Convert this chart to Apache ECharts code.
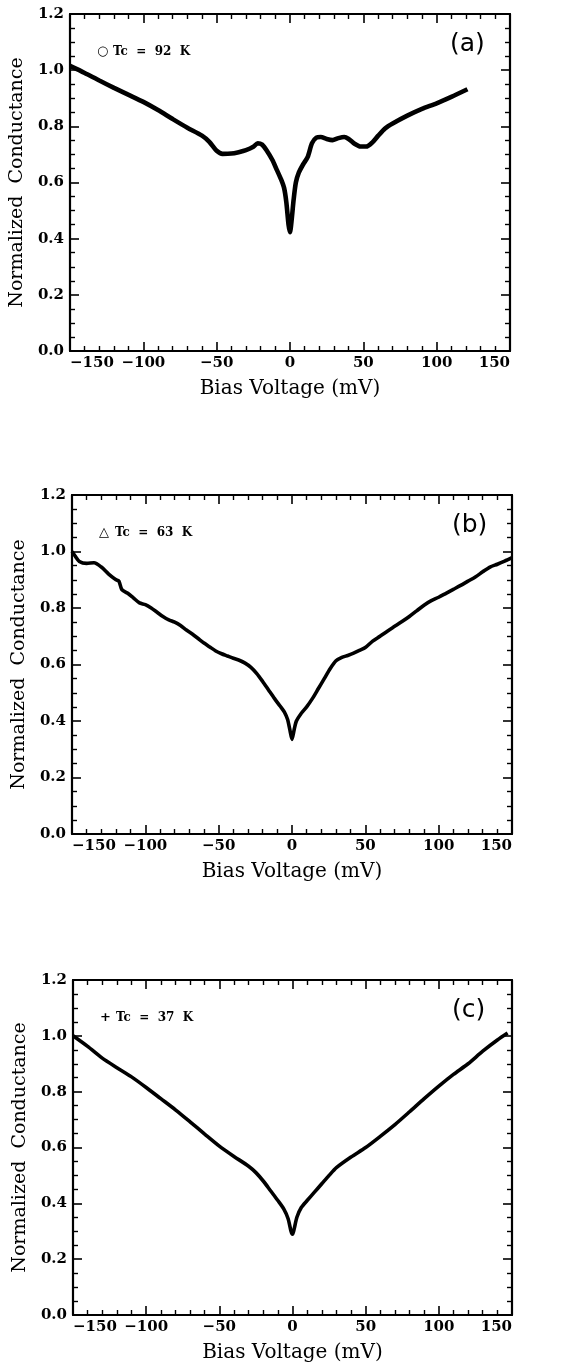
<!DOCTYPE html>
<html>
<head>
<meta charset="utf-8">
<script src="https://cdn.jsdelivr.net/npm/echarts@6/dist/echarts.min.js"></script>
<style>
html,body{margin:0;padding:0;background:#fff;}
#chart{width:583px;height:1364px;}
</style>
</head>
<body>
<div id="chart"></div>
<script>
// ---- data: bias voltage (mV), normalized conductance ----
var panelA_V = [-150,-140,-130,-120,-110,-100,-90,-80,-70,-60,-55,-50,-46,-40,-35,-30,-25,-22,-19,-16,-12,-9,-6,-4,-2.5,-1,0,1,2.5,4,6,9,12,15,18,21,25,29,33,37,40,44,48,52,56,60,65,70,80,90,100,110,121];
var panelA_G = [1.015,0.99,0.963,0.937,0.912,0.887,0.858,0.826,0.795,0.767,0.745,0.713,0.702,0.703,0.708,0.715,0.727,0.740,0.735,0.715,0.680,0.645,0.610,0.580,0.530,0.450,0.423,0.460,0.540,0.600,0.635,0.665,0.690,0.740,0.760,0.762,0.755,0.751,0.758,0.762,0.755,0.738,0.728,0.728,0.742,0.766,0.793,0.810,0.838,0.862,0.882,0.905,0.932];

var panelB_V = [-150,-148,-145,-140,-135,-130,-125,-120,-118,-116,-112,-108,-104,-100,-96,-92,-88,-84,-80,-76,-72,-68,-64,-60,-56,-52,-48,-44,-40,-36,-32,-28,-24,-20,-16,-12,-8,-5,-3,-1.5,0,1.5,3,6,10,14,18,22,26,30,34,38,42,46,50,55,60,65,70,75,80,85,90,95,100,105,110,115,120,125,130,135,140,145,150];
var panelB_G = [1.000,0.985,0.965,0.958,0.960,0.945,0.920,0.900,0.895,0.865,0.852,0.835,0.818,0.812,0.800,0.785,0.770,0.758,0.750,0.738,0.722,0.708,0.692,0.676,0.662,0.648,0.638,0.630,0.622,0.615,0.605,0.590,0.568,0.540,0.510,0.480,0.452,0.430,0.405,0.370,0.335,0.370,0.400,0.425,0.450,0.480,0.515,0.550,0.585,0.613,0.625,0.632,0.640,0.650,0.660,0.683,0.700,0.718,0.735,0.752,0.770,0.790,0.810,0.826,0.838,0.852,0.866,0.880,0.895,0.910,0.928,0.945,0.955,0.966,0.978];

var panelC_V = [-150,-140,-130,-120,-110,-100,-90,-80,-70,-60,-50,-40,-30,-25,-20,-15,-10,-6,-3,-1,0,1,3,6,10,15,20,25,30,40,50,60,70,80,90,100,110,120,130,140,147];
var panelC_G = [1.000,0.962,0.920,0.886,0.853,0.815,0.775,0.735,0.692,0.648,0.605,0.568,0.533,0.510,0.480,0.445,0.410,0.380,0.345,0.300,0.289,0.305,0.350,0.385,0.410,0.440,0.470,0.500,0.528,0.566,0.600,0.640,0.682,0.728,0.775,0.820,0.862,0.900,0.945,0.985,1.010];

var xTicks = [-150,-100,-50,0,50,100,150];
var yTicks = [0.0,0.2,0.4,0.6,0.8,1.0,1.2];
var panelLabels = ['(a)','(b)','(c)'];
var legendMarks = ['\u25CB','\u25B3','+'];
var legendTexts = ['Tc  =  92  K','Tc  =  63  K','Tc  =  37  K'];
var xName = 'Bias Voltage (mV)';
var yName = 'Normalized  Conductance';

function zip(v,g){ return v.map(function(x,i){ return [x,g[i]]; }); }
var seriesData = [zip(panelA_V,panelA_G), zip(panelB_V,panelB_G), zip(panelC_V,panelC_G)];

var grids = [
  {left:70, top:14, width:440, height:337},
  {left:72, top:495, width:440, height:339},
  {left:73, top:980, width:439, height:336}
];

var serif = '"DejaVu Serif", "Liberation Serif", serif';
var lineStyle = {color:'#000', width:2.2};

var xAxes=[], yAxes=[], series=[], graphics=[];
grids.forEach(function(g,i){
  var base = {
    gridIndex:i, type:'value', min:xTicks[0], max:xTicks[xTicks.length-1], interval:50,
    axisLine:{show:true, onZero:false, lineStyle:lineStyle},
    axisTick:{show:true, inside:true, length:9, lineStyle:{color:'#000', width:1.6}},
    minorTick:{show:true, splitNumber:5, length:5, lineStyle:{color:'#000', width:1.4}},
    splitLine:{show:false}
  };
  xAxes.push(Object.assign({}, base, {
    position:'bottom',
    name:xName, nameLocation:'middle', nameGap:28,
    nameTextStyle:{fontFamily:serif, fontSize:20, color:'#000'},
    axisLabel:{show:true, margin:5, fontFamily:serif, fontSize:15, fontWeight:'bold', color:'#000',
      alignMinLabel:'left', alignMaxLabel:'right',
      formatter:function(v){ return String(v).replace('-', '\u2212'); }}
  }));
  xAxes.push(Object.assign({}, base, {position:'top', axisLabel:{show:false}}));
  var ybase = {
    gridIndex:i, type:'value', min:yTicks[0], max:yTicks[yTicks.length-1], interval:0.2,
    axisLine:{show:true, onZero:false, lineStyle:lineStyle},
    axisTick:{show:true, inside:true, length:9, lineStyle:{color:'#000', width:1.6}},
    minorTick:{show:true, splitNumber:4, length:5, lineStyle:{color:'#000', width:1.4}},
    splitLine:{show:false}
  };
  yAxes.push(Object.assign({}, ybase, {
    position:'left',
    name:yName, nameLocation:'middle', nameGap:38,
    nameTextStyle:{fontFamily:serif, fontSize:19, color:'#000'},
    axisLabel:{show:true, margin:6, fontFamily:serif, fontSize:15, fontWeight:'bold', color:'#000',
      formatter:function(v){ return v.toFixed(1); }}
  }));
  yAxes.push(Object.assign({}, ybase, {position:'right', axisLabel:{show:false}}));
  series.push({
    type:'line', xAxisIndex:2*i, yAxisIndex:2*i, data:seriesData[i],
    showSymbol:false, smooth:0.25, animation:false,
    lineStyle:{color:'#000', width:i===0?4.6:3.6}
  });
  graphics.push({type:'text', left:g.left+27, top:g.top+31,
    style:{text:legendMarks[i], font:'bold 13px "DejaVu Sans", sans-serif', fill:'#000'}});
  graphics.push({type:'text', left:g.left+43, top:g.top+32,
    style:{text:legendTexts[i], font:'bold 12px "DejaVu Serif", serif', fill:'#000'}});
  graphics.push({type:'text', left:g.left+g.width-60, top:g.top+18,
    style:{text:panelLabels[i], font:'25px "DejaVu Sans", sans-serif', fill:'#000'}});
});

var chart = echarts.init(document.getElementById('chart'), null, {renderer:'canvas'});
chart.setOption({
  animation:false,
  backgroundColor:'#fff',
  grid:grids,
  xAxis:xAxes,
  yAxis:yAxes,
  series:series,
  graphic:graphics
});
</script>
</body>
</html>
